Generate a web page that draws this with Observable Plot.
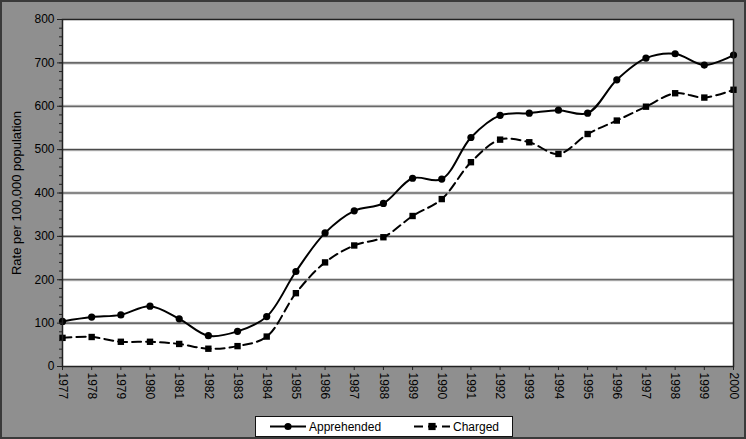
<!DOCTYPE html>
<html>
<head>
<meta charset="utf-8">
<script src="https://cdn.jsdelivr.net/npm/d3@7"></script>
<script src="https://cdn.jsdelivr.net/npm/@observablehq/plot@0.6"></script>
<style>
  html, body { margin: 0; padding: 0; background: #8f8f8f; }
  #wrap { position: relative; width: 746px; height: 439px; background: #8f8f8f; overflow: hidden; font-family: "Liberation Sans", Arial, sans-serif; }
  #border { position: absolute; left: 0; top: 0; width: 746px; height: 439px; box-sizing: border-box; border: 2px solid #3a3a3a; pointer-events: none; }
  #legend { position: absolute; left: 255px; top: 416px; width: 258px; height: 21px; box-sizing: border-box; background: #fff; border: 1px solid #111; }
  #legend svg { display: block; }
</style>
</head>
<body>
<div id="wrap">
  <div id="chart"></div>
  <div id="legend"></div>
  <div id="border"></div>
</div>
<script>
const years = d3.range(1977, 2001);
const apprehended = [104, 114, 119, 139, 110, 71, 81, 115, 219, 308, 359, 376, 434, 432, 528, 579, 584, 591, 584, 661, 711, 721, 695, 718];
const charged = [66, 68, 57, 57, 52, 41, 47, 69, 169, 240, 279, 298, 347, 386, 471, 523, 517, 490, 536, 567, 599, 630, 620, 638];
const seriesNames = ["Apprehended", "Charged"];
const yMajorTicks = d3.range(0, 801, 100);
const yMinorTicks = d3.range(0, 801, 20);
const gridValues = d3.range(100, 800, 100);

const dataA = years.map((y, i) => ({year: y, value: apprehended[i]}));
const dataC = years.map((y, i) => ({year: y, value: charged[i]}));

const chart = Plot.plot({
  width: 746,
  height: 412,
  marginLeft: 62,
  marginRight: 13,
  marginTop: 19,
  marginBottom: 46,
  style: {fontFamily: "'Liberation Sans', Arial, sans-serif", fontSize: "12px", background: "transparent", color: "#000"},
  x: {domain: [1977, 2000]},
  y: {domain: [0, 800]},
  marks: [
    Plot.frame({fill: "#fff", stroke: null}),
    Plot.ruleY(gridValues, {stroke: "#c4c4c4", strokeWidth: 3}),
    Plot.ruleY(gridValues, {stroke: "#4a4a4a", strokeWidth: 1.2}),
    Plot.line(dataC, {x: "year", y: "value", stroke: "#000", strokeWidth: 2, strokeDasharray: "9,5", curve: "catmull-rom"}),
    Plot.dot(dataC, {x: "year", y: "value", symbol: "square", r: 3.6, fill: "#000", stroke: null}),
    Plot.line(dataA, {x: "year", y: "value", stroke: "#000", strokeWidth: 2, curve: "catmull-rom"}),
    Plot.dot(dataA, {x: "year", y: "value", symbol: "circle", r: 3.6, fill: "#000", stroke: null}),
    Plot.axisY({ticks: yMinorTicks, tickSize: 3, fill: "none", label: null, stroke: "#222"}),
    Plot.axisY({ticks: yMajorTicks, tickSize: 5, tickPadding: 3, tickFormat: d => String(d), fontSize: 12,
      label: "Rate per 100,000 population", labelAnchor: "center", labelArrow: "none", labelOffset: 51, stroke: "#222"}),
    Plot.axisX({ticks: years, tickSize: 4, tickPadding: 2, tickRotate: 90, tickFormat: d => String(d), label: null, fontSize: 12, stroke: "#222"}),
    Plot.frame({stroke: "#222", strokeWidth: 1.5}),
  ]
});
document.getElementById("chart").appendChild(chart);
chart.querySelectorAll("[aria-label='y-axis label']").forEach(el => el.setAttribute("font-size", "13"));

// Legend
const lg = d3.select("#legend").append("svg").attr("width", 256).attr("height", 19);
lg.append("line").attr("x1", 14).attr("x2", 50).attr("y1", 9.5).attr("y2", 9.5).attr("stroke", "#000").attr("stroke-width", 2);
lg.append("circle").attr("cx", 32).attr("cy", 9.5).attr("r", 3.6).attr("fill", "#000");
lg.append("text").attr("x", 53).attr("y", 14).attr("font-size", 12).attr("font-family", "'Liberation Sans', Arial, sans-serif").text(seriesNames[0]);
lg.append("line").attr("x1", 158).attr("x2", 194).attr("y1", 9.5).attr("y2", 9.5).attr("stroke", "#000").attr("stroke-width", 2).attr("stroke-dasharray", "9,5");
lg.append("rect").attr("x", 172.4).attr("y", 5.9).attr("width", 7.2).attr("height", 7.2).attr("fill", "#000");
lg.append("text").attr("x", 197).attr("y", 14).attr("font-size", 12).attr("font-family", "'Liberation Sans', Arial, sans-serif").text(seriesNames[1]);
</script>
</body>
</html>
